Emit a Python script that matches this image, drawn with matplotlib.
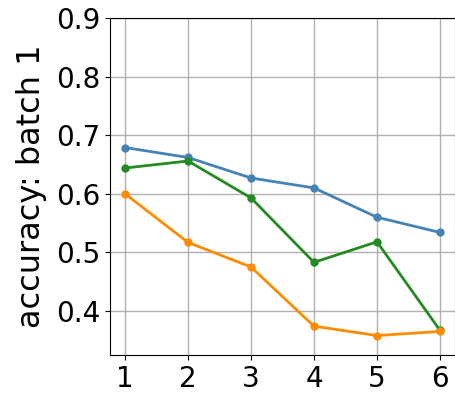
import matplotlib
matplotlib.use("Agg")
import matplotlib.pyplot as plt

x = [1, 2, 3, 4, 5, 6]
blue = [0.679, 0.662, 0.627, 0.610, 0.560, 0.534]
green = [0.644, 0.656, 0.593, 0.483, 0.518, 0.367]
orange = [0.600, 0.517, 0.475, 0.374, 0.358, 0.365]
yticks = [0.4, 0.5, 0.6, 0.7, 0.8, 0.9]

fig = plt.figure(figsize=(4.56, 3.93), dpi=100)
ax = fig.add_axes([0.241, 0.097, 0.757, 0.857])
ax.plot(x, blue, color="steelblue", marker="o", lw=2, ms=5)
ax.plot(x, green, color="forestgreen", marker="o", lw=2, ms=5)
ax.plot(x, orange, color="darkorange", marker="o", lw=2, ms=5)
ax.set_xlim(0.76, 6.24)
ax.set_ylim(0.325, 0.9)
ax.set_xticks(x)
ax.set_yticks(yticks)
ax.set_yticklabels([f"{v:.1f}" for v in yticks])
ax.tick_params(labelsize=20)
ax.set_ylabel("accuracy: batch 1", fontsize=23, labelpad=6)
ax.grid(True, color="#b0b0b0", lw=1)
ax.set_axisbelow(True)
fig.savefig("out.png", dpi=100)
